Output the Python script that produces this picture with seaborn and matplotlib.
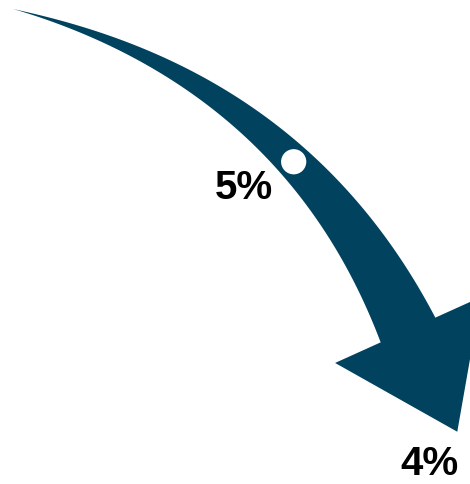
import numpy as np
import matplotlib
matplotlib.use("Agg")
import matplotlib.pyplot as plt
import seaborn as sns
from matplotlib.patches import Polygon

# ── Data ──────────────────────────────────────────────────────────────────────
rates = [5, 4]                      # start rate, end rate
rate_labels = [f"{r}%" for r in rates]

ARROW_COLOR = "#01425f"

sns.set_style("white")
plt.rcParams["font.family"] = ["Liberation Sans", "DejaVu Sans"]

fig = plt.figure(figsize=(4.7, 4.84), dpi=100)
ax = fig.add_axes([0, 0, 1, 1])
ax.set_xlim(0, 470)
ax.set_ylim(484, 0)
ax.axis("off")

# ── Curved arrow: quadratic bezier centreline, tapering shaft ─────────────────
p0 = np.array([13.0, 9.0])
p1 = np.array([295.0, 80.0])
p2 = np.array([408.0, 330.0])
t = np.linspace(0, 1, 300)
curve = ((1 - t) ** 2)[:, None] * p0 + (2 * (1 - t) * t)[:, None] * p1 + (t ** 2)[:, None] * p2
deriv = (2 * (1 - t))[:, None] * (p1 - p0) + (2 * t)[:, None] * (p2 - p1)
tang = deriv / np.linalg.norm(deriv, axis=1)[:, None]
norm = np.column_stack([tang[:, 1], -tang[:, 0]])
width = 60 * t ** 1.1
upper = curve + norm * (width / 2)[:, None]
lower = curve - norm * (width / 2)[:, None]

d, n = tang[-1], norm[-1]
tip = p2 + d * 113 + n * 3
head = np.array([p2 + n * 80, tip, p2 - n * 80])
shape = np.vstack([upper, head, lower[::-1]])
ax.add_patch(Polygon(shape, closed=True, facecolor=ARROW_COLOR, edgecolor="none"))

# ── White marker on the shaft ─────────────────────────────────────────────────
k = int(0.61 * (len(t) - 1))
sns.scatterplot(x=[curve[k, 0]], y=[curve[k, 1]], ax=ax, s=330, color="white",
                edgecolor="none", zorder=3)

# ── Labels ────────────────────────────────────────────────────────────────────
ax.text(curve[k, 0] - 50, curve[k, 1] + 26, rate_labels[0], fontsize=29,
        fontweight="bold", ha="center", va="center", color="black")
ax.text(tip[0] - 28, 475, rate_labels[1], fontsize=29,
        fontweight="bold", ha="center", va="baseline", color="black")

fig.savefig("out.png", dpi=100)
